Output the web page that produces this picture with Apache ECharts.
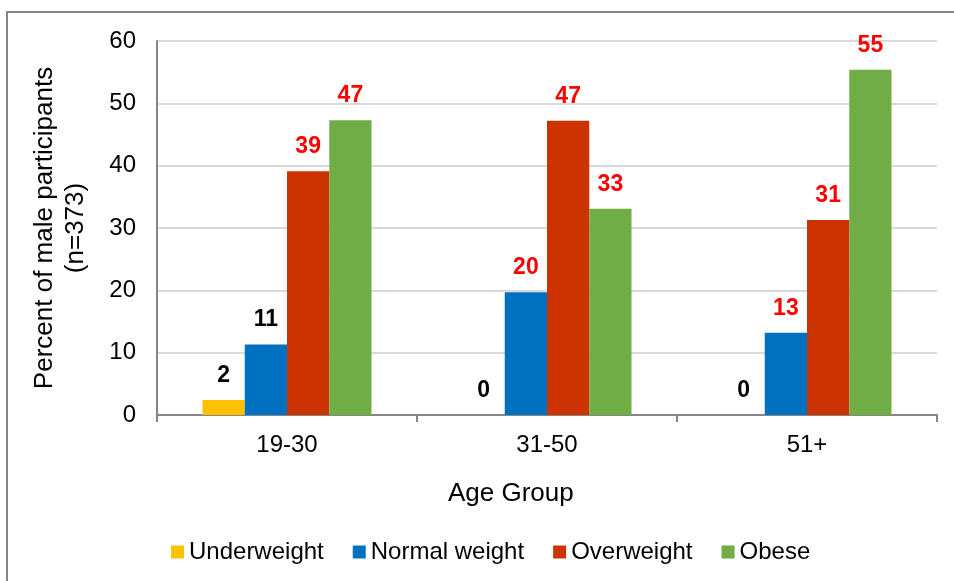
<!DOCTYPE html>
<html>
<head>
<meta charset="utf-8">
<script src="https://cdn.jsdelivr.net/npm/echarts@6/dist/echarts.min.js"></script>
<style>
  html, body { margin: 0; padding: 0; background: #fff; }
  #main { width: 954px; height: 581px; }
</style>
</head>
<body>
<div id="main"></div>
<script>
// age groups
var ageGroups = ['19-30', '31-50', '51+'];
// series names
var seriesNames = ['Underweight', 'Normal weight', 'Overweight', 'Obese'];
// bar colours
var barColors = ['#FFC000', '#0070C0', '#CC3300', '#70AD47'];
// percent values for each series
var underweight = [2.4, 0, 0];
var normalWeight = [11.3, 19.7, 13.2];
var overweight = [39.1, 47.2, 31.3];
var obese = [47.3, 33.1, 55.4];
// label colours per point
var underweightLabelColor = ['#000', '#000', '#000'];
var normalLabelColor = ['#000', '#FF0000', '#FF0000'];
var overweightLabelColor = ['#FF0000', '#FF0000', '#FF0000'];
var obeseLabelColor = ['#FF0000', '#FF0000', '#FF0000'];
var yTicks = [0, 10, 20, 30, 40, 50, 60];

var allValues = [underweight, normalWeight, overweight, obese];
var allLabelColors = [underweightLabelColor, normalLabelColor, overweightLabelColor, obeseLabelColor];
var font = 'Liberation Sans, Arial, sans-serif';

var series = [];
for (var s = 0; s < seriesNames.length; s++) {
    var items = [];
    for (var i = 0; i < ageGroups.length; i++) {
        items.push({
            value: allValues[s][i],
            label: { color: allLabelColors[s][i] }
        });
    }
    series.push({
        name: seriesNames[s],
        type: 'bar',
        barGap: '0%',
        barCategoryGap: '35%',
        itemStyle: { color: barColors[s] },
        label: {
            show: true,
            position: 'top',
            distance: 13,
            fontFamily: font,
            fontSize: 23,
            fontWeight: 'bold',
            formatter: function (p) { return Math.round(p.value); }
        },
        data: items
    });
}

var myChart = echarts.init(document.getElementById('main'));
var option = {
    backgroundColor: '#fff',
    animation: false,
    textStyle: { fontFamily: font },
    graphic: [
        {
            type: 'rect',
            shape: { x: 7, y: 12, width: 960, height: 600 },
            style: { fill: 'none', stroke: '#868686', lineWidth: 2 }
        },
        {
            type: 'text',
            left: 448,
            top: 481,
            style: { text: 'Age Group', fontSize: 26, fill: '#000', fontFamily: font }
        }
    ],
    grid: {
        left: 157,
        right: 17,
        top: 41,
        bottom: 166
    },
    legend: {
        data: seriesNames,
        left: 166,
        top: 535,
        itemWidth: 13,
        itemHeight: 13,
        itemGap: 29,
        icon: 'rect',
        textStyle: { fontSize: 24, color: '#000' }
    },
    xAxis: {
        type: 'category',
        data: ageGroups,
        axisLine: { lineStyle: { color: '#868686', width: 2 } },
        axisTick: { show: true, length: 7, lineStyle: { color: '#868686', width: 2 } },
        axisLabel: { fontSize: 24, color: '#000', margin: 18 }
    },
    yAxis: {
        type: 'value',
        min: yTicks[0],
        max: yTicks[yTicks.length - 1],
        interval: 10,
        name: 'Percent of male participants\n(n=373)',
        nameLocation: 'middle',
        nameGap: 66,
        nameTextStyle: { fontSize: 26, color: '#000', lineHeight: 31 },
        axisLine: { show: true, lineStyle: { color: '#868686', width: 2 } },
        axisTick: { show: false },
        axisLabel: { fontSize: 24, color: '#000', margin: 21 },
        splitLine: { lineStyle: { color: '#D9D9D9', width: 2 } }
    },
    series: series
};
myChart.setOption(option);
</script>
</body>
</html>
